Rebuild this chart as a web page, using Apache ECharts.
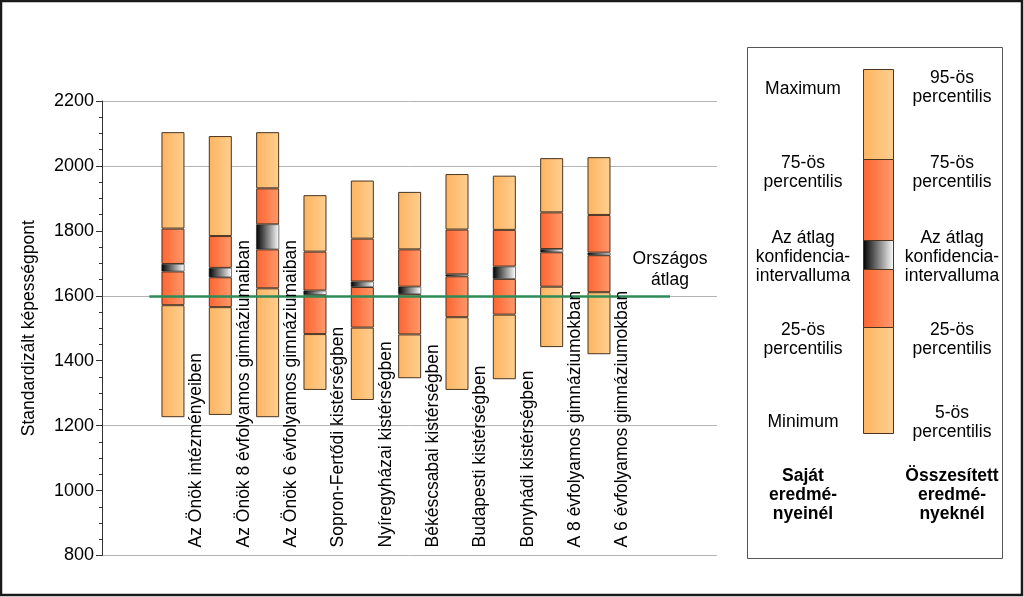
<!DOCTYPE html>
<html>
<head>
<meta charset="utf-8">
<script src="https://cdn.jsdelivr.net/npm/echarts@6/dist/echarts.min.js"></script>
<style>
html,body{margin:0;padding:0;background:#fff;}
#chart{width:1024px;height:597px;}
</style>
</head>
<body>
<div id="chart"></div>
<script>
// ---- data ----
const categories = [
  'Az Önök intézményeiben',
  'Az Önök 8 évfolyamos gimnáziumaiban',
  'Az Önök 6 évfolyamos gimnáziumaiban',
  'Sopron-Fertődi kistérségben',
  'Nyíregyházai kistérségben',
  'Békéscsabai kistérségben',
  'Budapesti kistérségben',
  'Bonyhádi kistérségben',
  'A 8 évfolyamos gimnáziumokban',
  'A 6 évfolyamos gimnáziumokban'
];
const minV   = [1226, 1233, 1226, 1310, 1279, 1346, 1310, 1343, 1442, 1420];
const q1V    = [1571, 1565, 1623, 1482, 1502, 1481, 1534, 1542, 1628, 1611];
const ciLowV = [1675, 1657, 1743, 1603, 1627, 1605, 1660, 1652, 1734, 1725];
const ciHighV= [1698, 1686, 1820, 1616, 1644, 1628, 1666, 1690, 1744, 1733];
const q3V    = [1807, 1784, 1931, 1736, 1776, 1743, 1804, 1803, 1857, 1849];
const maxV   = [2104, 2092, 2104, 1910, 1955, 1920, 1975, 1970, 2024, 2027];
const nationalAverage = 1600;
const yTicks = [800, 1000, 1200, 1400, 1600, 1800, 2000, 2200];

// ---- styles ----
const FONT = 'Arial, "Liberation Sans", sans-serif';
const FS = 17.5;
const grad = (a, b) => ({type:'linear', x:0, y:0, x2:1, y2:0, colorStops:[{offset:0,color:a},{offset:1,color:b}]});
const LIGHT = grad('#FDB460', '#FFCF90');
const MID = grad('#FF6430', '#FF9A6C');
const CI = grad('#000000', '#FFFFFF');
const BORDER = '#4a3420';

const cats = categories.concat(['']);
const labelCats = [''].concat(categories, ['']);
const pad = arr => arr.concat(['-']);
const diff = (a, b) => a.map((v, i) => v - b[i]);

function seg(name, data, color, extra) {
  return Object.assign({
    name, type: 'bar', stack: 'box', xAxisIndex: 0, yAxisIndex: 2,
    barWidth: 23, data: pad(data),
    itemStyle: {color, borderColor: BORDER, borderWidth: 1},
    emphasis: {disabled: true}, silent: true
  }, extra || {});
}

const series = [
  seg('base', minV, 'rgba(0,0,0,0)', {itemStyle:{color:'rgba(0,0,0,0)', borderWidth:0}}),
  seg('p5-p25', diff(q1V, minV), LIGHT),
  seg('p25-ci', diff(ciLowV, q1V), MID),
  seg('ci', diff(ciHighV, ciLowV), CI, {itemStyle:{color: CI, borderColor:'#222', borderWidth:0.6}}),
  seg('ci-p75', diff(q3V, ciHighV), MID),
  seg('p75-p95', diff(maxV, q3V), LIGHT, {
    markLine: {
      silent: true, symbol: 'none', animation: false,
      lineStyle: {color: '#2E8B57', width: 2.5, type: 'solid'},
      label: {
        show: true, position: 'insideEndTop', formatter: 'Országos\nátlag',
        color: '#000', fontSize: FS, fontFamily: FONT, lineHeight: 21,
        align: 'center', distance: 5, padding: [0, 0, 0, 10]
      },
      data: [{yAxis: nationalAverage}]
    }
  })
];

// legend graphic
const LX = 863, LW = 30;
const legendBands = [
  [69, 159, LIGHT], [159, 240, MID], [240, 269, CI], [269, 327, MID], [327, 433, LIGHT]
];
const gfx = [];
gfx.push({type:'rect', shape:{x:1, y:1, width:1021, height:594}, style:{fill:'none', stroke:'#1a1a1a', lineWidth:2.5}, z:100});
gfx.push({type:'rect', shape:{x:747.5, y:47.5, width:255, height:511}, style:{fill:'#fff', stroke:'#555', lineWidth:1}});
legendBands.forEach(b => {
  gfx.push({type:'rect', shape:{x:LX+0.5, y:b[0]+0.5, width:LW, height:b[1]-b[0]},
    style:{fill:b[2], stroke:BORDER, lineWidth:1}, z:10});
});
function txt(x, y, s, bold) {
  gfx.push({type:'text', x, y, z:10, style:{text:s, fill:'#000', font:(bold?'bold ':'')+FS+'px '+FONT,
    textAlign:'center', textVerticalAlign:'middle', lineHeight:19}});
}
const L = 803, R = 952;
txt(L, 89, 'Maximum');
txt(L, 173, '75-ös\npercentilis');
txt(L, 257, 'Az átlag\nkonfidencia-\nintervalluma');
txt(L, 340, '25-ös\npercentilis');
txt(L, 422, 'Minimum');
txt(L, 495, 'Saját\neredmé-\nnyeinél', true);
txt(R, 88, '95-ös\npercentilis');
txt(R, 173, '75-ös\npercentilis');
txt(R, 257, 'Az átlag\nkonfidencia-\nintervalluma');
txt(R, 340, '25-ös\npercentilis');
txt(R, 423, '5-ös\npercentilis');
txt(R, 495, 'Összesített\neredmé-\nnyeknél', true);

const option = {
  animation: false,
  backgroundColor: '#fff',
  textStyle: {fontFamily: FONT},
  grid: [
    {left: 149.3, top: 101, width: 520.7, height: 454.5, containLabel: false},
    {left: 102, top: 101, width: 615, height: 454.5, containLabel: false}
  ],
  xAxis: [
    {type: 'category', gridIndex: 0, data: cats, show: true,
     axisLine: {show: false}, axisTick: {show: false}, axisLabel: {show: false},
     splitLine: {show: false}},
    {type: 'value', gridIndex: 1, show: false, min: 0, max: 1},
    {type: 'category', gridIndex: 0, data: labelCats, boundaryGap: false, position: 'bottom', z: 5,
     axisLine: {show: false}, axisTick: {show: false},
     axisLabel: {inside: true, rotate: 90, margin: 8, interval: 0, color: '#000',
       fontSize: FS, fontFamily: FONT},
     splitLine: {show: false}}
  ],
  yAxis: [
    {type: 'value', gridIndex: 1, min: yTicks[0], max: yTicks[yTicks.length-1], interval: 200,
     name: 'Standardizált képességpont', nameLocation: 'middle', nameGap: 64,
     nameTextStyle: {color: '#000', fontSize: FS, fontFamily: FONT},
     axisLine: {show: true, lineStyle: {color: '#333', width: 1}},
     axisTick: {show: true, length: 6, lineStyle: {color: '#333'}},
     minorTick: {show: true, splitNumber: 4, length: 3, lineStyle: {color: '#333'}},
     axisLabel: {color: '#000', fontSize: 18, fontFamily: FONT, margin: 8, formatter: v => String(v)},
     splitLine: {show: false}},
    {type: 'value', gridIndex: 1, min: yTicks[0], max: yTicks[yTicks.length-1], interval: 400,
     axisLine: {show: false}, axisTick: {show: false}, axisLabel: {show: false},
     splitLine: {show: true, lineStyle: {color: '#b4b4b4', width: 1}}},
    {type: 'value', gridIndex: 0, min: yTicks[0], max: yTicks[yTicks.length-1], show: false}
  ],
  series,
  graphic: gfx
};
const chart = echarts.init(document.getElementById('chart'), null, {renderer: 'canvas'});
chart.setOption(option);
</script>
</body>
</html>
